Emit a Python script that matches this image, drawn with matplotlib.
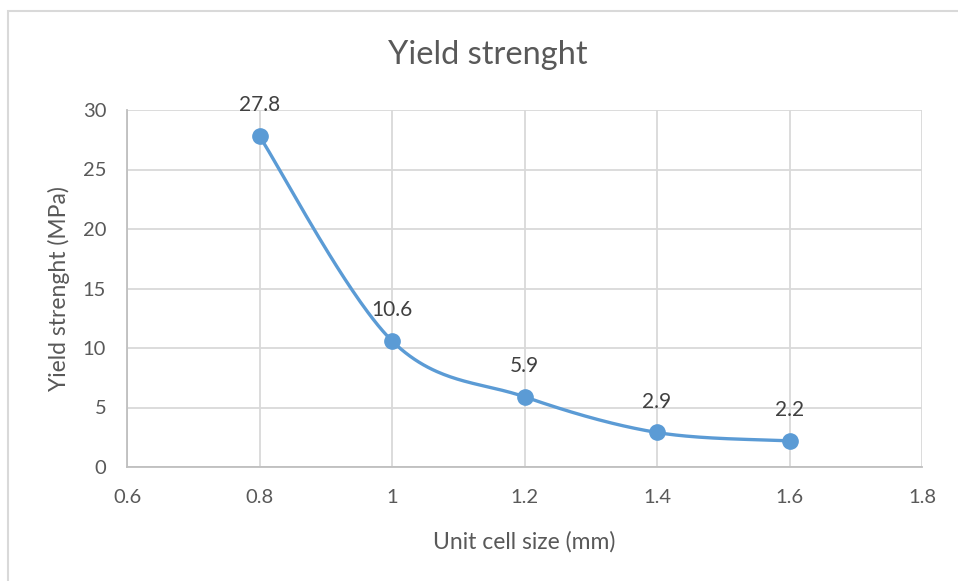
import numpy as np
import matplotlib
matplotlib.use("Agg")
import matplotlib.pyplot as plt
from matplotlib.patches import Rectangle

# Yield strength vs. unit cell size
cell_size = [0.8, 1.0, 1.2, 1.4, 1.6]
yield_strength = [27.8, 10.6, 5.9, 2.9, 2.2]
x_ticks = [0.6, 0.8, 1.0, 1.2, 1.4, 1.6, 1.8]
x_tick_labels = ["0.6", "0.8", "1", "1.2", "1.4", "1.6", "1.8"]
y_ticks = [0, 5, 10, 15, 20, 25, 30]

LINE = "#5B9BD5"
GRID = "#D9D9D9"
TEXT = "#595959"
LABEL = "#404040"

plt.rcParams["font.family"] = ["Lato", "DejaVu Sans"]


def smooth_curve(xs, ys, n=60):
    """Cubic Bezier smoothing through every point (Catmull-Rom style)."""
    p = np.column_stack([xs, ys]).astype(float)
    pts = np.vstack([p[0], p, p[-1]])
    out = []
    t = np.linspace(0, 1, n)[:, None]
    for i in range(1, len(pts) - 2):
        p0, p1, p2, p3 = pts[i - 1], pts[i], pts[i + 1], pts[i + 2]
        c1 = p1 + (p2 - p0) / 6.0
        c2 = p2 - (p3 - p1) / 6.0
        seg = ((1 - t) ** 3) * p1 + 3 * ((1 - t) ** 2) * t * c1 \
            + 3 * (1 - t) * t ** 2 * c2 + t ** 3 * p2
        out.append(seg if i == 1 else seg[1:])
    c = np.vstack(out)
    return c[:, 0], c[:, 1]


fig = plt.figure(figsize=(9.58, 5.81), dpi=100)
W, H = 958, 581
ax = fig.add_axes([127 / W, 1 - 467 / H, (922 - 127) / W, (467 - 110) / H])

# chart area frame (only top and left edges fall inside the canvas)
fig.patches.append(Rectangle((7.5 / W, -0.1), 1.2, 1.1 - 10.5 / H,
                             transform=fig.transFigure, fill=False,
                             edgecolor="#D9D9D9", linewidth=1.5))

sx, sy = smooth_curve(cell_size, yield_strength)
ax.plot(sx, sy, color=LINE, linewidth=2.4, solid_capstyle="round", zorder=3)
ax.plot(cell_size, yield_strength, "o", color=LINE, markersize=11, zorder=4)

for xv, yv in zip(cell_size, yield_strength):
    ax.annotate(f"{yv}", (xv, yv), xytext=(0, 15), textcoords="offset points",
                ha="center", va="bottom", fontsize=15, color=LABEL, zorder=5)

ax.set_xlim(0.6, 1.8)
ax.set_ylim(0, 30)
ax.set_xticks(x_ticks)
ax.set_xticklabels(x_tick_labels)
ax.set_yticks(y_ticks)
ax.grid(True, color=GRID, linewidth=1.3)
ax.set_axisbelow(True)
for side in ["top", "right"]:
    ax.spines[side].set_visible(False)
for side in ["left", "bottom"]:
    ax.spines[side].set_color("#BFBFBF")
    ax.spines[side].set_linewidth(1.3)
ax.tick_params(axis="y", length=0, labelsize=14.5, colors=TEXT, pad=15)
ax.tick_params(axis="x", length=0, labelsize=14.5, colors=TEXT, pad=16)

ax.set_xlabel("Unit cell size (mm)", fontsize=16.5, color=TEXT, labelpad=18)
ax.set_ylabel("Yield strenght (MPa)", fontsize=16.5, color=TEXT, labelpad=9)
fig.text(488 / W, 1 - 55 / H, "Yield strenght", ha="center", va="center",
         fontsize=23.5, color=TEXT)

fig.savefig("out.png", dpi=100, facecolor="white")
